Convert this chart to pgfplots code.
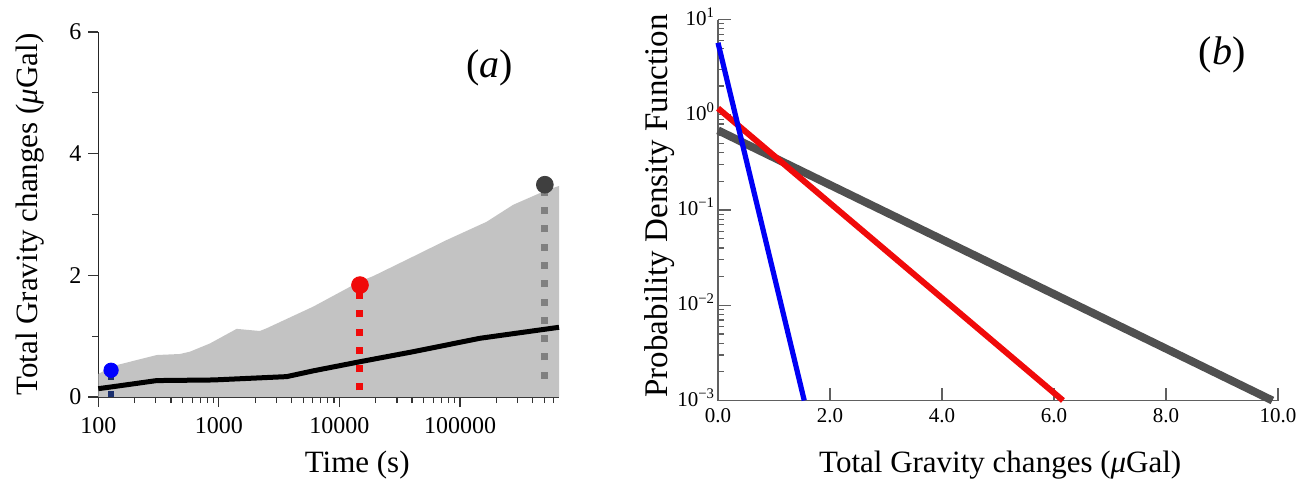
\documentclass[border=0pt]{standalone}
\usepackage{fontspec}
\setmainfont{Liberation Serif}
\usepackage{pgfplots}
\pgfplotsset{compat=1.18}
\definecolor{fillgray}{RGB}{195,195,195}
\definecolor{navydash}{RGB}{26,47,110}
\definecolor{dotgray}{RGB}{128,128,128}
\definecolor{darkdot}{RGB}{63,63,63}
\definecolor{pdfgray}{RGB}{80,80,80}
\definecolor{pdfblue}{RGB}{0,0,245}
\definecolor{pdfred}{RGB}{240,10,10}
\definecolor{axgray}{RGB}{96,96,96}

\begin{document}
\begin{tikzpicture}
\path[use as bounding box] (0,0) rectangle (654.5pt,246pt);

% panel (a): gravity change against time
\begin{axis}[
  at={(49.15pt,47.5pt)}, anchor=south west,
  scale only axis, width=230.35pt, height=182.5pt,
  xmode=log, xmin=100, xmax=662000, ymin=0, ymax=6,
  axis lines*=left, axis line style={line width=0.8pt, black!85},
  tick align=outside, major tick length=5pt, minor tick length=3pt,
  tick style={black!80, line width=0.6pt},
  xtick={100,1000,10000,100000}, xticklabels={100,1000,10000,100000},
  minor xtick={200,300,400,500,600,700,800,900,2000,3000,4000,5000,6000,7000,8000,9000,
    20000,30000,40000,50000,60000,70000,80000,90000,200000,300000,400000,500000,600000},
  ytick={0,2,4,6}, minor ytick={1,3,5},
  ticklabel style={font=\fontsize{12}{14}\selectfont},
  xticklabel style={yshift=-1.5pt},
  /pgf/number format/assume math mode=true,
  xlabel={Time (s)},
  ylabel={Total Gravity changes (\textit{μ}Gal)},
  label style={font=\fontsize{15.5}{18}\selectfont},
  xlabel style={at={(axis description cs:0.562,-0.186)}, anchor=center},
  ylabel style={at={(axis description cs:-0.148,0.5)}, anchor=center},
  clip=false]
\addplot[fill=fillgray, draw=none] coordinates {
  (100,0.378) (133,0.51) (305,0.69) (475,0.707) (575,0.745) (843,0.88)
  (1403,1.12) (2188,1.085) (2490,1.13) (6063,1.486) (14790,1.90) (19170,1.99)
  (40960,2.31) (77400,2.58) (166000,2.88) (276000,3.16) (522000,3.40) (662000,3.47)
} \closedcycle;
\addplot[black, line width=2.5pt] coordinates {
  (100,0.137) (133,0.17) (305,0.27) (900,0.28) (3650,0.335) (6063,0.43)
  (14790,0.58) (40960,0.745) (146000,0.965) (662000,1.146)
};
\addplot[navydash, line width=3.2pt, dash pattern=on 3.2pt off 5.4pt] coordinates {(127.6,0.0) (127.6,0.40)};
\addplot[pdfred, line width=3.5pt, dash pattern=on 3.5pt off 5.65pt] coordinates {(14800,0.107) (14800,1.80)};
\addplot[dotgray, line width=3.5pt, dash pattern=on 3.5pt off 5.65pt] coordinates {(505000,0.30) (505000,3.40)};
\addplot[only marks, mark=*, mark size=3.6pt, blue, mark options={fill=blue}] coordinates {(127.6,0.44)};
\addplot[only marks, mark=*, mark size=4.2pt, pdfred, mark options={fill=pdfred}] coordinates {(14800,1.84)};
\addplot[only marks, mark=*, mark size=4.2pt, darkdot, mark options={fill=darkdot}] coordinates {(505000,3.49)};
\node[font=\fontsize{20}{24}\selectfont] at (rel axis cs:0.85,0.901) {(\textit{a})};
\end{axis}

% panel (b): probability density functions
\begin{axis}[
  at={(359pt,45.75pt)}, anchor=south west,
  scale only axis, width=280pt, height=190.5pt,
  ymode=log, xmin=0, xmax=10, ymin=1e-3, ymax=10,
  axis lines*=left, axis line style={line width=0.7pt, axgray},
  tick align=inside, major tick length=6.5pt, minor tick length=3pt,
  tick style={axgray, line width=0.6pt},
  xtick={0,2,4,6,8,10}, xticklabels={0.0,2.0,4.0,6.0,8.0,10.0},
  ytick={1e-3,1e-2,1e-1,1,10},
  yticklabels={10\textsuperscript{−3},10\textsuperscript{−2},10\textsuperscript{−1},10\textsuperscript{0},10\textsuperscript{1}},
  minor ytick={2e-3,3e-3,4e-3,5e-3,6e-3,7e-3,8e-3,9e-3,2e-2,3e-2,4e-2,5e-2,6e-2,7e-2,8e-2,9e-2,
    0.2,0.3,0.4,0.5,0.6,0.7,0.8,0.9,2,3,4,5,6,7,8,9},
  ticklabel style={font=\fontsize{10.5}{12}\selectfont},
  xticklabel style={yshift=-0.5pt},
  yticklabel style={xshift=2pt, yshift=1.5pt},
  /pgf/number format/assume math mode=true,
  xlabel={Total Gravity changes (\textit{μ}Gal)},
  ylabel={Probability Density Function},
  label style={font=\fontsize{15.5}{18}\selectfont},
  ylabel style={font=\fontsize{16.5}{18}\selectfont},
  xlabel style={at={(axis description cs:0.504,-0.170)}, anchor=center},
  ylabel style={at={(axis description cs:-0.104,0.511)}, anchor=center},
  clip=false]
\addplot[pdfgray, line width=4pt] coordinates {(0,0.686) (9.9,0.001)};
\addplot[pdfred, line width=3pt] coordinates {(0,1.17) (6.16,0.001)};
\addplot[pdfblue, line width=2.6pt] coordinates {(0,5.7) (1.54,0.001)};
\node[font=\fontsize{20}{24}\selectfont] at (rel axis cs:0.9,0.907) {(\textit{b})};
\end{axis}
\end{tikzpicture}
\end{document}
